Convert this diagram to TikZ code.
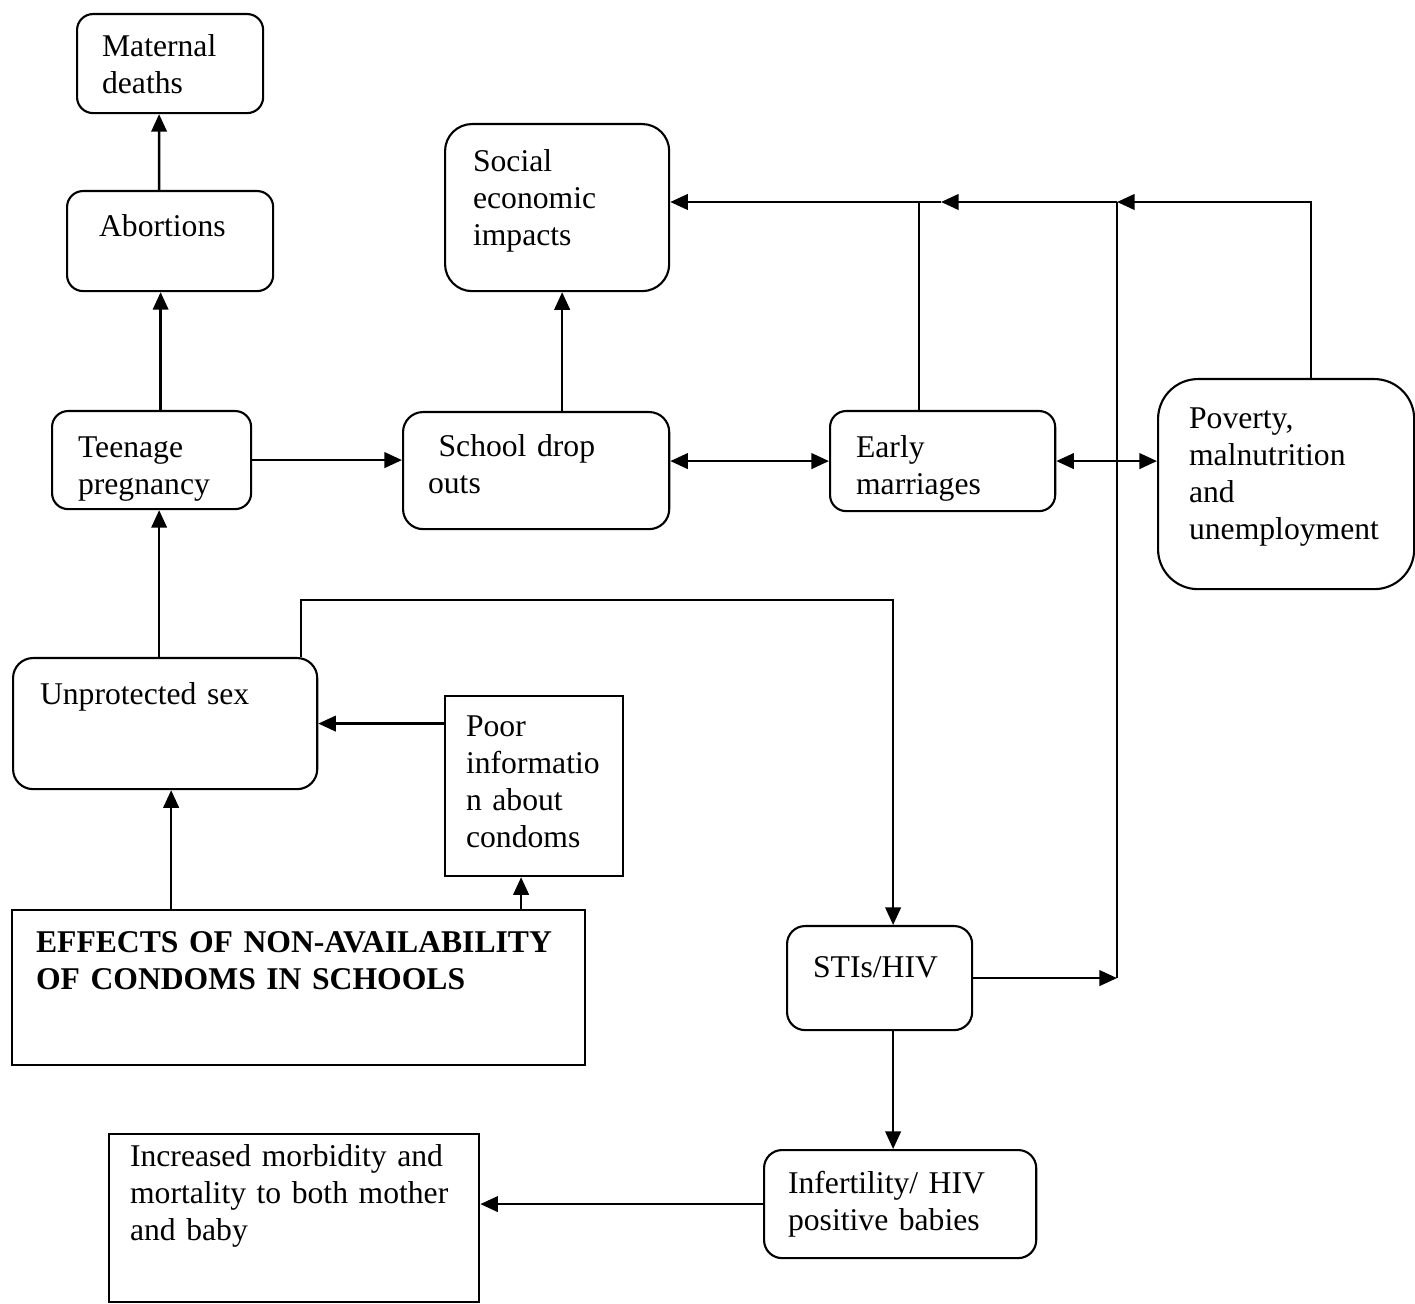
\documentclass[tikz,border=0pt]{standalone}
\usepackage{fontspec}
\setmainfont{Liberation Serif}
\usetikzlibrary{arrows.meta}

\begin{document}
\begin{tikzpicture}[x=0.01cm, y=-0.01cm,
    box/.style={draw, line width=0.6pt, anchor=north west, align=left, inner ysep=0pt,
      font=\fontsize{9}{10.53}\selectfont},
    rbox/.style={box, rounded corners=0.16cm},
    arr/.style={line width=0.7pt, -{Triangle[length=5pt,width=4.4pt]}},
    darr/.style={line width=0.7pt, {Triangle[length=5pt,width=4.4pt]}-{Triangle[length=5pt,width=4.4pt]}},
    link/.style={line width=0.5pt}]
  \useasboundingbox (0,0) rectangle (1415,1304);

  % Boxes
  \node[rbox, text width=1.36cm, inner xsep=0.25cm, text height=0.42cm, text depth=0.57cm] (maternal) at (76,13) {Maternal\\deaths};
  \node[rbox, text width=1.42cm, inner xsep=0.32cm, text height=0.45cm, text depth=0.55cm] (abort) at (66,190) {Abortions};
  \node[rbox, text width=1.47cm, inner xsep=0.26cm, text height=0.46cm, text depth=0.52cm] (teen) at (51,410) {Teenage\\pregnancy};
  \node[rbox, rounded corners=0.27cm, text width=1.68cm, inner xsep=0.28cm, text height=0.47cm, text depth=1.20cm] (social) at (444,123) {Social\\economic\\impacts};
  \node[rbox, rounded corners=0.2cm, text width=2.16cm, inner xsep=0.25cm, text height=0.44cm, text depth=0.73cm] (school) at (402,411) {~School drop\\outs};
  \node[rbox, text width=1.73cm, inner xsep=0.26cm, text height=0.46cm, text depth=0.54cm] (early) at (829,410) {Early\\marriages};
  \node[rbox, rounded corners=0.4cm, text width=1.94cm, inner xsep=0.31cm, text height=0.49cm, text depth=1.61cm] (poverty) at (1157,378) {Poverty,\\malnutrition\\and\\unemployment};
  \node[rbox, rounded corners=0.2cm, text width=2.50cm, inner xsep=0.27cm, text height=0.46cm, text depth=0.85cm] (unprot) at (12,657) {Unprotected sex};
  \node[box, text width=1.36cm, inner xsep=0.21cm, text height=0.40cm, text depth=1.40cm] (poorinfo) at (444,695) {Poor\\informatio\\n about\\condoms};
  \node[box, text width=5.25cm, inner xsep=0.24cm, text height=0.42cm, text depth=1.13cm] (effects) at (11,909) {\textbf{EFFECTS OF NON-AVAILABILITY}\\\textbf{OF CONDOMS IN SCHOOLS}};
  \node[rbox, rounded corners=0.18cm, text width=1.33cm, inner xsep=0.26cm, text height=0.51cm, text depth=0.53cm] (stis) at (786,925) {STIs/HIV};
  \node[rbox, rounded corners=0.18cm, text width=2.24cm, inner xsep=0.24cm, text height=0.43cm, text depth=0.65cm] (infert) at (763,1149) {Infertility/ HIV\\positive babies};
  \node[box, text width=3.28cm, inner xsep=0.21cm, text height=0.32cm, text depth=1.36cm] (morbid) at (108,1133) {Increased morbidity and\\mortality to both mother\\and baby};

  % Junctions on the top line
  \coordinate (j1) at (1117,202);
  \coordinate (j2) at (941,202);

  % Left column
  \draw[arr] ([xshift=-0.11cm]abort.north) -- ([xshift=-0.11cm]maternal.south);
  \draw[arr] ([xshift=0.09cm]teen.north) -- ([xshift=0.09cm]teen.north |- abort.south);
  \draw[arr] ([xshift=-0.06cm]unprot.north) -- ([xshift=-0.06cm]unprot.north |- teen.south);
  \draw[arr] ([xshift=0.06cm]unprot.south |- effects.north) -- ([xshift=0.06cm]unprot.south);
  \draw[arr] ([xshift=-0.13cm]poorinfo.south |- effects.north) -- ([xshift=-0.13cm]poorinfo.south);
  \draw[arr] (poorinfo.west |- unprot.east) -- (unprot.east);

  % Middle row
  \draw[arr] (teen.east) -- (teen.east -| school.west);
  \draw[arr] ([xshift=0.26cm]school.north) -- ([xshift=0.26cm]school.north |- social.south);
  \draw[darr] (school.east |- early.west) -- (early.west);
  \draw[darr] (early.east) -- (early.east -| poverty.west);

  % Top line back to social economic impacts
  \draw[arr] ([xshift=0.25cm]poverty.north) |- (j1);
  \draw[arr] (j1) -- (j2);
  \draw[arr] (j2) -- (j2 -| social.east);
  \draw[link] ([xshift=-0.235cm]early.north) -- ([xshift=-0.235cm]early.north |- j2);
  \draw[link] (j1) -- (stis.east -| j1);
  \draw[arr] (stis.east) -- (stis.east -| j1);

  % Unprotected sex to STIs and below
  \draw[arr] ([xshift=1.36cm]unprot.north) -- ++(0,-57) -| ([xshift=0.135cm]stis.north);
  \draw[arr] ([xshift=0.135cm]stis.south) -- ([xshift=0.135cm]stis.south |- infert.north);
  \draw[arr] (infert.west) -- (infert.west -| morbid.east);
\end{tikzpicture}
\end{document}
